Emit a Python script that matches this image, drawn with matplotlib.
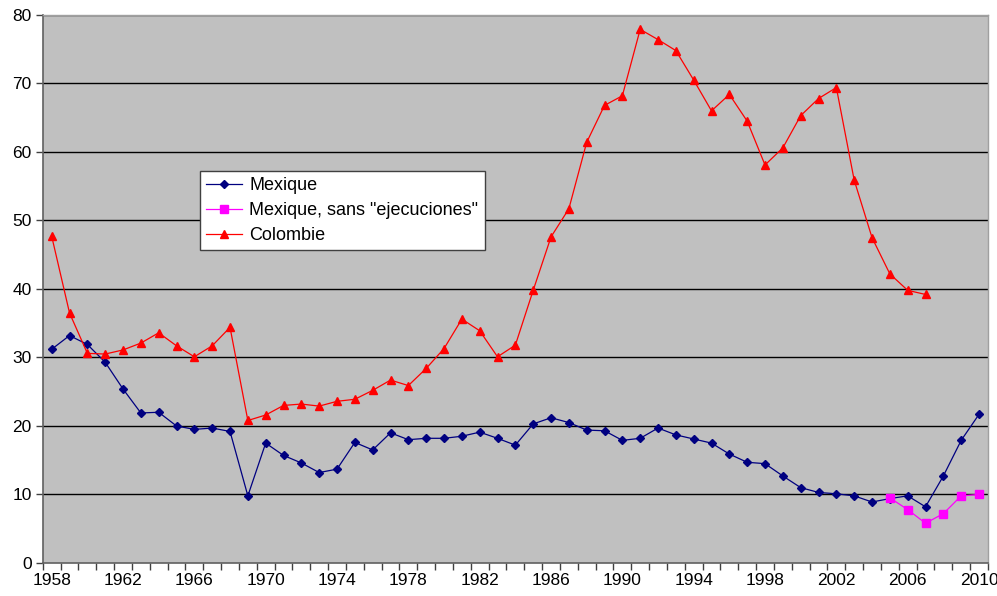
import numpy as np
import matplotlib

matplotlib.use("Agg")
import matplotlib.pyplot as plt

plt.rcParams["font.family"] = ["Liberation Sans", "DejaVu Sans"]

years = np.arange(1958, 2011)

mexique = [
    31.2, 33.2, 31.9, 29.3, 25.4, 21.9, 22.0, 20.0, 19.5, 19.7,
    19.2, 9.8, 17.5, 15.7, 14.6, 13.2, 13.7, 17.6, 16.5, 19.0,
    18.0, 18.2, 18.2, 18.5, 19.1, 18.2, 17.2, 20.3, 21.2, 20.5,
    19.4, 19.3, 17.9, 18.2, 19.7, 18.7, 18.1, 17.5, 15.9, 14.7,
    14.5, 12.7, 11.0, 10.3, 10.1, 9.8, 8.9, 9.4, 9.8, 8.2,
    12.7, 17.9, 21.7,
]

sans_years = np.arange(2005, 2011)
mexique_sans = [9.5, 7.8, 5.8, 7.2, 9.8, 10.0]

col_years = np.arange(1958, 2008)
colombie = [
    47.7, 36.5, 30.6, 30.5, 31.1, 32.1, 33.6, 31.7, 30.1, 31.7,
    34.4, 20.8, 21.6, 23.0, 23.2, 22.9, 23.6, 23.9, 25.2, 26.7,
    25.9, 28.4, 31.3, 35.6, 33.9, 30.1, 31.8, 39.8, 47.6, 51.7,
    61.4, 66.8, 68.2, 77.9, 76.4, 74.8, 70.5, 66.0, 68.4, 64.5,
    58.1, 60.6, 65.3, 67.8, 69.4, 55.9, 47.5, 42.2, 39.8, 39.2,
]

label_years = np.arange(1958, 2011, 4)

fig = plt.figure(figsize=(9.97, 5.96), dpi=100)
ax = fig.add_axes([0.0429, 0.0554, 0.948, 0.9195])
ax.set_facecolor("#C0C0C0")

for v in range(10, 81, 10):
    ax.axhline(v, color="black", lw=1.0, zorder=1)

ax.plot(years, mexique, color="#000080", lw=0.9, marker="D", ms=4.3,
        label="Mexique", zorder=3)
ax.plot(sans_years, mexique_sans, color="#FF00FF", lw=0.9, marker="s", ms=5.2,
        label='Mexique, sans "ejecuciones"', zorder=4)
ax.plot(col_years, colombie, color="#FF0000", lw=0.9, marker="^", ms=6.0,
        label="Colombie", zorder=3)

ax.set_xlim(1957.5, 2010.5)
ax.set_ylim(0, 80)

# tick marks on category boundaries, labels every 4 years at centres
ax.set_xticks(np.arange(1957.5, 2011, 1.0))
ax.set_xticklabels([])
ax.set_xticks(label_years, minor=True)
ax.set_xticklabels([str(y) for y in label_years], minor=True)
ax.tick_params(axis="x", which="major", direction="out", length=5,
               color="#404040", width=1)
ax.tick_params(axis="x", which="minor", length=0, pad=7, labelsize=12.5)

ax.set_yticks(range(0, 81, 10))
ax.tick_params(axis="y", direction="out", length=5, color="#404040",
               width=1, labelsize=12.5, pad=3)

for side in ["top", "right"]:
    ax.spines[side].set_color("#A0A0A0")
    ax.spines[side].set_linewidth(1.0)
for side in ["left", "bottom"]:
    ax.spines[side].set_color("#606060")
    ax.spines[side].set_linewidth(1.2)

leg = ax.legend(loc="upper left", bbox_to_anchor=(0.166, 0.716),
                fontsize=13, frameon=True, fancybox=False,
                handlelength=2.0, handletextpad=0.4, labelspacing=0.45,
                borderpad=0.35, borderaxespad=0)
leg.get_frame().set_edgecolor("#404040")
leg.get_frame().set_linewidth(1.0)
leg.get_frame().set_facecolor("white")
leg.get_frame().set_alpha(1)

fig.savefig("out.png", dpi=100)
